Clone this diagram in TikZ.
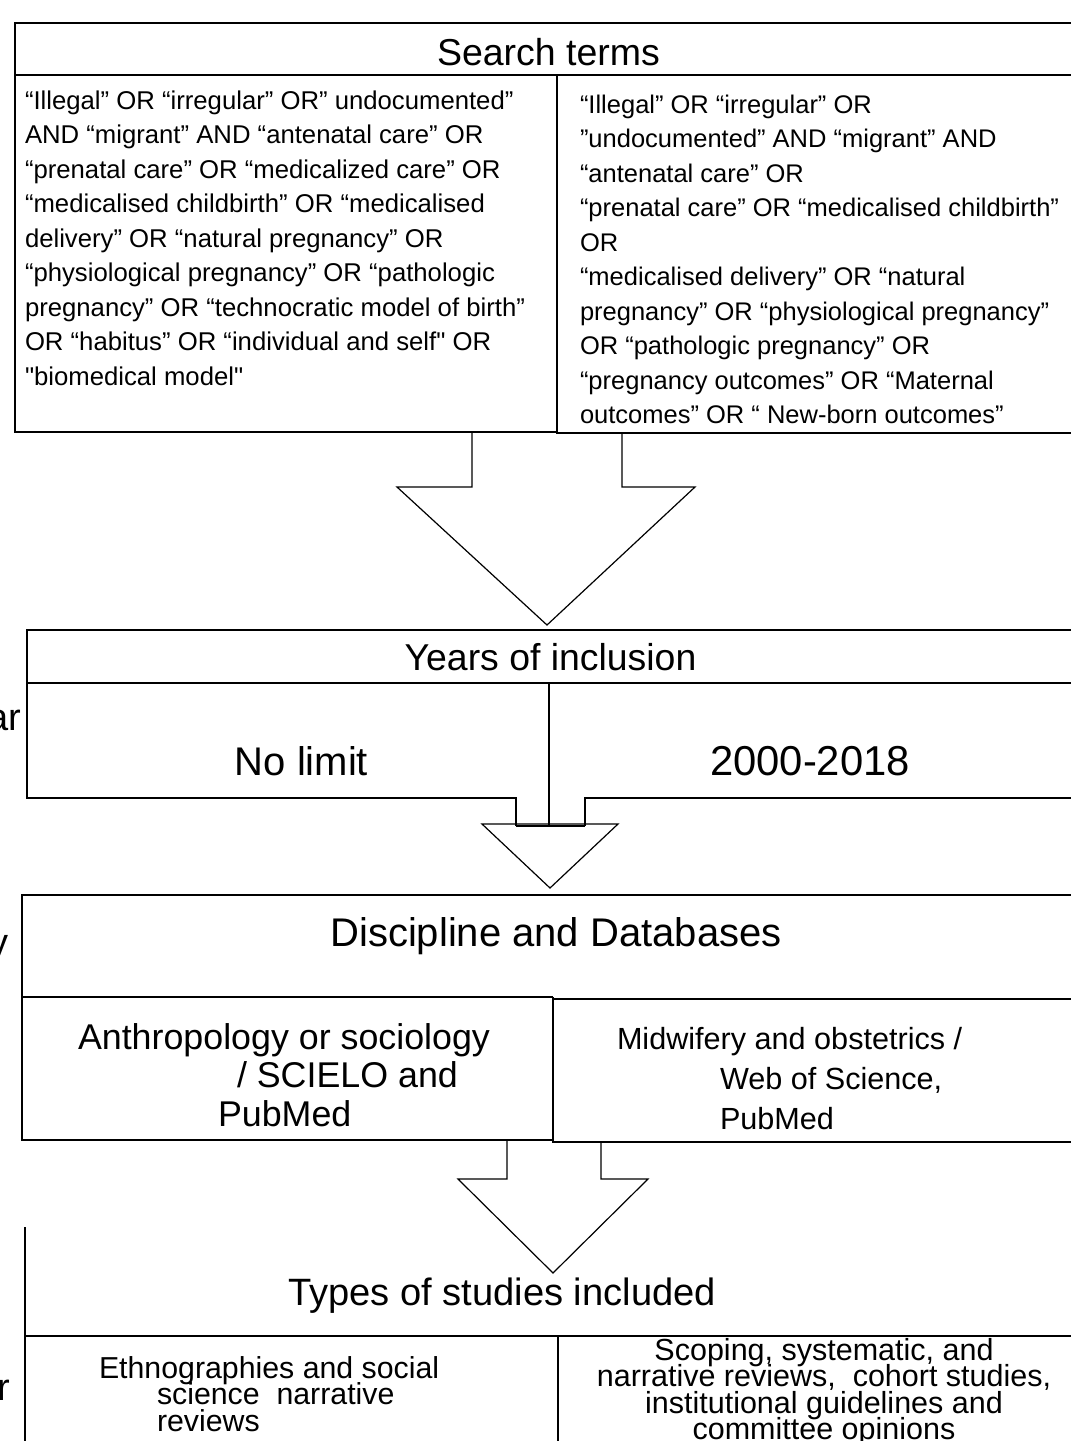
\documentclass[tikz,border=0pt]{standalone}
\usepackage{fontspec}
\setmainfont{Liberation Sans}[Ligatures=TeXOff]
\newcommand\fs[2]{\fontsize{#1}{#2}\selectfont}
\newcommand\Lrows[2]{\vtop{\baselineskip=#1\relax\lineskiplimit=-1000pt\lineskip=0pt\halign{##\hfil\cr#2\crcr}}}
\newcommand\Crows[2]{\vtop{\baselineskip=#1\relax\lineskiplimit=-1000pt\lineskip=0pt\halign{\hfil##\hfil\cr#2\crcr}}}
\begin{document}
\begin{tikzpicture}[x=1pt,y=-1pt,
  txt/.style={inner sep=0pt,outer sep=0pt},
  box/.style={line width=1.8pt},
  thinbox/.style={line width=1.2pt},
  blockarrow/.style={line width=1.2pt,line join=miter}]
\useasboundingbox (0,0) rectangle (1071,1441);
\fill[white] (0,0) rectangle (1071,1441);

% ---------- Search terms ----------
\draw[box] (1085,23) -- (15,23) -- (15,432) -- (557,432);
\draw[box] (15,75) -- (1085,75);
\draw[box] (557,75) -- (557,433) -- (1085,433);
\node[txt,anchor=base] (st) at (548.5,65) {\fs{37.5}{40}Search terms};
\node[txt,anchor=base west] (stl) at (25,109) {\fs{25.7}{34.5}\Lrows{34.5pt}{%
“Illegal” OR “irregular” OR” undocumented”\cr
AND “migrant” AND “antenatal care” OR\cr
“prenatal care” OR “medicalized care” OR\cr
“medicalised childbirth” OR “medicalised\cr
delivery” OR “natural pregnancy” OR\cr
“physiological pregnancy” OR “pathologic\cr
pregnancy” OR “technocratic model of birth”\cr
OR “habitus” OR “individual and self" OR\cr
"biomedical model"}};
\node[txt,anchor=base west] (str) at (580,113) {\fs{25.5}{34.5}\Lrows{34.55pt}{%
“Illegal” OR “irregular” OR\cr
”undocumented” AND “migrant” AND\cr
“antenatal care” OR\cr
“prenatal care” OR “medicalised childbirth”\cr
OR\cr
“medicalised delivery” OR “natural\cr
pregnancy” OR “physiological pregnancy”\cr
OR “pathologic pregnancy” OR\cr
“pregnancy outcomes” OR “Maternal\cr
outcomes” OR “ New-born outcomes”}};

% arrow 1
\coordinate (a1l) at (472,432);
\coordinate (a1r) at (622,433);
\draw[blockarrow] (a1l) -- (472,487) -- (397,487) -- (547,625) -- (695,487) -- (622,487) -- (a1r);

% ---------- Years of inclusion ----------
\draw[box] (1085,630) -- (27,630) -- (27,798) -- (516,798) -- (516,826);
\draw[box] (27,683) -- (1085,683);
\draw[box] (1085,798) -- (585,798) -- (585,826);
\draw[thinbox] (549,683) -- (549,826);
\node[txt,anchor=base] (yi) at (550.5,670) {\fs{37.4}{40}Years of inclusion};
\node[txt,anchor=base] (nl) at (301.5,775) {\fs{40}{44}No limit};
\node[txt,anchor=base] (yr) at (810,775) {\fs{41.8}{44}2000-2018};
\node[txt,anchor=base east] (sa) at (21,730) {\fs{38}{40}ar};

% arrow 2
\draw[blockarrow] (482,824) -- (618,824) -- (550,888) -- cycle;
\draw[box] (516,826) -- (585,826);

% ---------- Discipline and Databases ----------
\draw[box] (1085,895) -- (22,895) -- (22,1140) -- (553,1140);
\draw[box] (22,997) -- (553,997);
\draw[box] (553,999) -- (1085,999);
\draw[box] (553,997) -- (553,1142) -- (1085,1142);
\node[txt,anchor=base] (dd) at (556,946) {\fs{40}{44}Discipline and Databases};
\node[txt,anchor=base east] (sy) at (9,955) {\fs{38}{40}y};
\node[txt,anchor=base west] (anth) at (78,1049) {\fs{35.8}{38.5}\Lrows{38.8pt}{%
Anthropology or sociology\cr
\hspace*{159pt}/ SCIELO and\cr
\hspace*{140pt}PubMed}};
\node[txt,anchor=base west] (mid) at (617,1049) {\fs{30.6}{40}\Lrows{40pt}{%
Midwifery and obstetrics /\cr
\hspace*{103pt}Web of Science,\cr
\hspace*{103pt}PubMed}};

% arrow 3
\draw[blockarrow] (507,1141) -- (507,1179) -- (458,1179) -- (553,1273) -- (648,1179) -- (601,1179) -- (601,1142);

% ---------- Types of studies included ----------
\draw[box] (25,1227) -- (25,1450);
\draw[box] (25,1336) -- (1085,1336);
\draw[thinbox] (558,1336) -- (558,1450);
\node[txt,anchor=base] (ts) at (502,1305) {\fs{38.1}{40}Types of studies included};
\node[txt,anchor=base west] (eth) at (99,1378) {\fs{30.3}{26.5}\Lrows{26.5pt}{%
Ethnographies and social\cr
\hspace*{58pt}science\ \ narrative\cr
\hspace*{58pt}reviews}};
\node[txt,anchor=base] (scp) at (824,1360) {\fs{30.5}{26.5}\Crows{26.6pt}{%
Scoping, systematic, and\cr
narrative reviews,\ \ cohort studies,\cr
institutional guidelines and\cr
committee opinions}};
\node[txt,anchor=base east] (sr) at (10,1400) {\fs{38}{40}r};
\end{tikzpicture}
\end{document}
